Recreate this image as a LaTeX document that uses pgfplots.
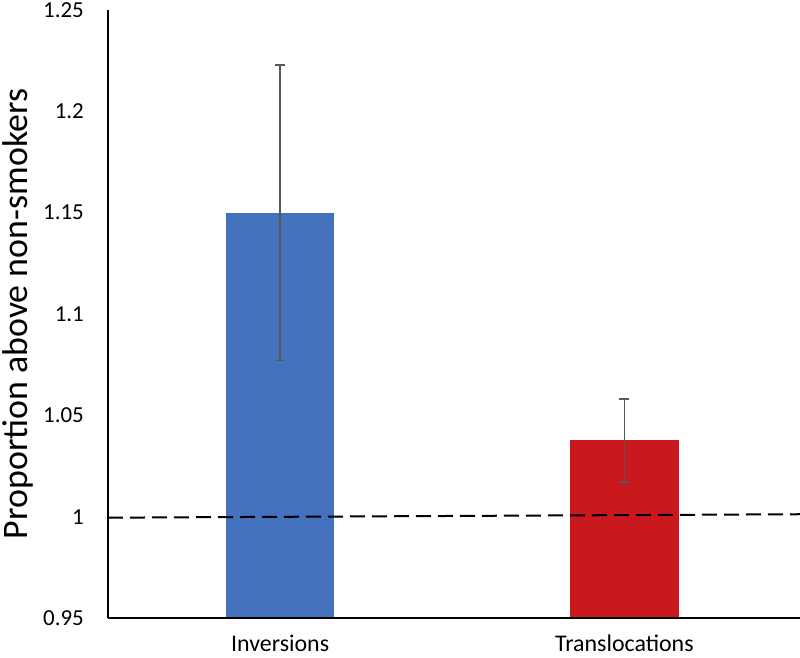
\documentclass[border=0pt]{standalone}
\usepackage{pgfplots}
\pgfplotsset{compat=1.18}
\usepackage{fontspec}
\setmainfont{Carlito}
\definecolor{barblue}{RGB}{68,114,190}
\definecolor{barred}{RGB}{201,25,30}
\definecolor{errgray}{RGB}{89,89,89}
\begin{document}
\begin{tikzpicture}
\begin{axis}[
  scale only axis,
  width=692bp, height=608bp,
  xmin=-0.5, xmax=1.51,
  ymin=0.95, ymax=1.25,
  axis x line=bottom, axis y line=left,
  axis line style={line width=1.5bp, -},
  axis on top,
  xtick={0,1}, xticklabels={Inversions,Translocations},
  ytick={0.95,1,1.05,1.1,1.15,1.2,1.25},
  yticklabels={0.95,1,1.05,1.1,1.15,1.2,1.25},
  major tick length=0pt,
  tick style={draw=none},
  yticklabel style={font=\fontsize{23}{23}\selectfont, inner sep=0pt, xshift=-24bp},
  xticklabel style={font=\fontsize{24}{24}\selectfont, inner sep=0pt,
    text depth=0pt, yshift=-17bp},
  ylabel={Proportion above non-smokers},
  ylabel style={font=\fontsize{36}{36}\selectfont, at={(rel axis cs:0,0.5)},
    anchor=north, inner sep=0pt, yshift=106bp},
]
% bars with error bars
\addplot[ybar, bar width=0.315, fill=barblue, draw=none,
  error bars/.cd, y dir=both, y explicit,
  error bar style={errgray, line width=1.7bp},
  error mark options={errgray, rotate=90, mark size=5bp, line width=1.7bp}]
  coordinates {(0,1.15) +- (0,0.073)};
\addplot[ybar, bar width=0.315, fill=barred, draw=none,
  error bars/.cd, y dir=both, y explicit,
  error bar style={errgray, line width=1.7bp},
  error mark options={errgray, rotate=90, mark size=5bp, line width=1.7bp}]
  coordinates {(1,1.0376) +- (0,0.0204)};
% reference line
\addplot[black, line width=2bp, dash pattern=on 15bp off 7bp]
  coordinates {(-0.5,0.9995) (1.51,1.0012)};
\coordinate (sw) at (rel axis cs:0,0);
\coordinate (ne) at (rel axis cs:1,1);
\end{axis}
\pgfresetboundingbox
\path[use as bounding box] ([shift={(-108bp,-40bp)}]sw) rectangle ([shift={(0bp,10bp)}]ne);
\end{tikzpicture}
\end{document}
